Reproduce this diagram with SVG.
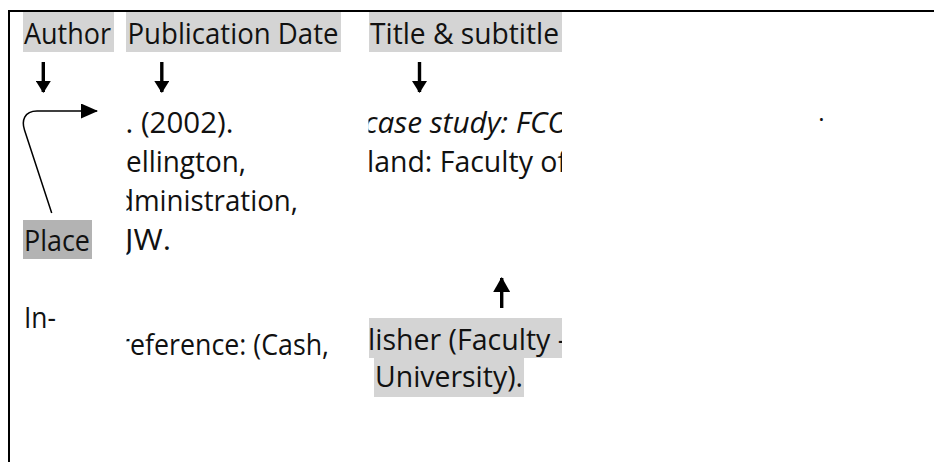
<svg xmlns="http://www.w3.org/2000/svg" width="934" height="462" viewBox="0 0 934 462">
  <style>
    text { font-family: "Open Sans", "Lato", sans-serif; font-size: 29px; fill: #111; }
    .it { font-style: italic; }
    .hl { fill: #d4d4d4; }
    .hl-dark { fill: #b3b3b3; }
    .frame { stroke: #000; stroke-width: 2; fill: none; }
    .arrow { stroke: #000; stroke-width: 3.4; fill: none; }
    .curve { stroke: #000; stroke-width: 1.5; fill: none; }
  </style>
  <defs>
    <marker id="tip" viewBox="0 0 12 15" refX="11" refY="7.5" markerWidth="12" markerHeight="15" markerUnits="userSpaceOnUse" orient="auto">
      <path d="M0,0 L12,7.5 L0,15 Z" fill="#000"/>
    </marker>
    <marker id="tipLong" viewBox="0 0 15 17" refX="14" refY="8.5" markerWidth="15" markerHeight="17" markerUnits="userSpaceOnUse" orient="auto">
      <path d="M0,0 L15,8.5 L0,17 Z" fill="#000"/>
    </marker>
    <marker id="tipCurve" viewBox="0 0 17 15" refX="16" refY="7.5" markerWidth="17" markerHeight="15" markerUnits="userSpaceOnUse" orient="auto">
      <path d="M0,0 L17,7.5 L0,15 Z" fill="#000"/>
    </marker>
    <clipPath id="col2"><rect x="126.5" y="95" width="236" height="300"/></clipPath>
    <clipPath id="col3"><rect x="368.5" y="95" width="193.5" height="320"/></clipPath>
  </defs>

  <rect width="934" height="462" fill="#fff"/>

  <!-- table frame: top rule and left rule -->
  <path class="frame" d="M8,11 H934 M9,11 V462"/>

  <!-- header labels -->
  <g id="author">
    <rect class="hl" x="23" y="12" width="91" height="40"/>
    <text x="24" y="44" textLength="87" lengthAdjust="spacingAndGlyphs">Author</text>
  </g>
  <g id="pubdate">
    <rect class="hl" x="126" y="12" width="215" height="40"/>
    <text x="127.5" y="44" textLength="211" lengthAdjust="spacingAndGlyphs">Publication Date</text>
  </g>
  <g id="title">
    <rect class="hl" x="369" y="12" width="193" height="40"/>
    <text x="370" y="44" textLength="189" lengthAdjust="spacingAndGlyphs">Title &amp; subtitle</text>
  </g>

  <!-- left column -->
  <g id="place">
    <rect class="hl-dark" x="23" y="220" width="69" height="39"/>
    <text x="24" y="251" textLength="66" lengthAdjust="spacingAndGlyphs">Place</text>
  </g>
  <g id="intext-label">
    <text x="24" y="328" textLength="32" lengthAdjust="spacingAndGlyphs">In-</text>
  </g>

  <!-- second column: citation body, cut at the cell edge -->
  <g id="citation" clip-path="url(#col2)">
    <text x="125.5" y="133" textLength="108" lengthAdjust="spacingAndGlyphs">. (2002).</text>
    <text x="126" y="172" textLength="120" lengthAdjust="spacingAndGlyphs">ellington,</text>
    <text x="117" y="211" textLength="181" lengthAdjust="spacingAndGlyphs">dministration,</text>
    <text x="125" y="250" textLength="46" lengthAdjust="spacingAndGlyphs">JW.</text>
  </g>
  <g id="intext" clip-path="url(#col2)">
    <text x="119" y="355" textLength="210" lengthAdjust="spacingAndGlyphs">reference: (Cash,</text>
  </g>

  <!-- third column: title and publisher -->
  <g id="title-body" clip-path="url(#col3)">
    <text class="it" x="364" y="133" textLength="205" lengthAdjust="spacingAndGlyphs">case study: FCO</text>
    <text x="367" y="172" textLength="200" lengthAdjust="spacingAndGlyphs">land: Faculty of</text>
  </g>
  <g id="publisher">
    <g clip-path="url(#col3)">
      <rect class="hl" x="369" y="318" width="200" height="40"/>
      <text x="368" y="350" textLength="199" lengthAdjust="spacingAndGlyphs">lisher (Faculty -</text>
    </g>
    <rect class="hl" x="374" y="358" width="150" height="39"/>
    <text x="375" y="387" textLength="148" lengthAdjust="spacingAndGlyphs">University).</text>
  </g>

  <g id="stray-period">
    <text x="818.3" y="121" style="font-size:24px">.</text>
  </g>

  <!-- connectors -->
  <g id="connectors">
    <line class="arrow" x1="43.3" y1="62" x2="43.3" y2="92" marker-end="url(#tip)"/>
    <line class="arrow" x1="161.8" y1="62" x2="161.8" y2="92" marker-end="url(#tip)"/>
    <line class="arrow" x1="419.5" y1="62" x2="419.5" y2="92" marker-end="url(#tip)"/>
    <line class="arrow" x1="501.7" y1="308" x2="501.7" y2="278" marker-end="url(#tipLong)"/>
    <path class="curve" d="M51.7,213 L24.5,130 C21.5,121 24,111 37,111 L97,111" marker-end="url(#tipCurve)"/>
  </g>
</svg>
